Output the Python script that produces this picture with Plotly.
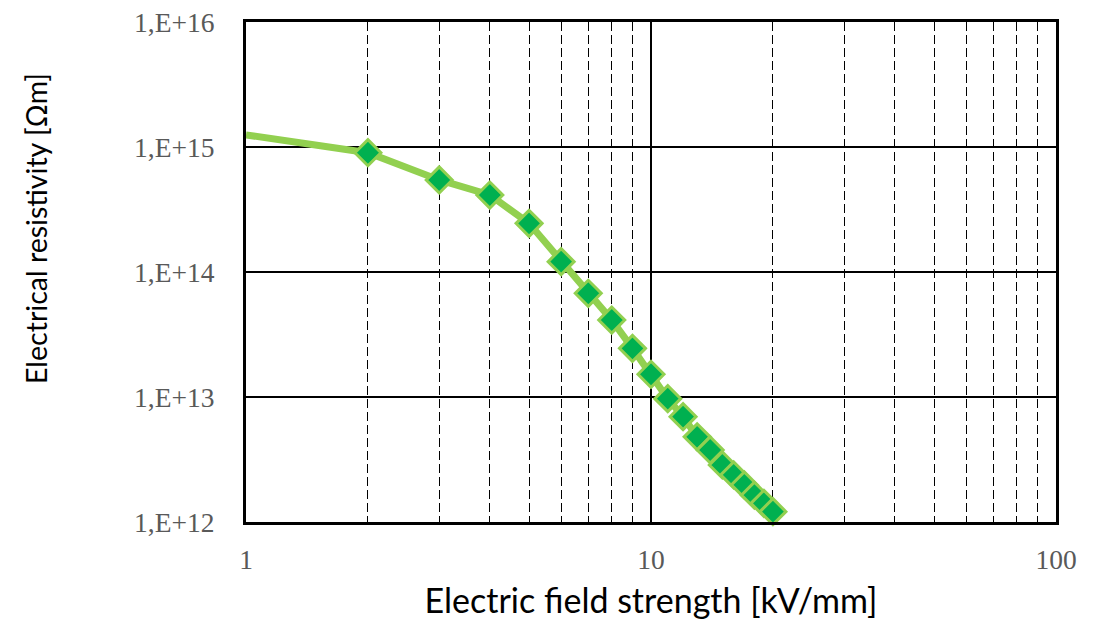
import plotly.graph_objects as go

# Data
field_line = [1, 2, 3, 4, 5, 6, 7, 8, 9, 10, 11, 12, 13, 14, 15, 16, 17, 18, 19, 20]
resist_line = [1.25e15, 9.0e14, 5.45e14, 4.13e14, 2.45e14, 1.21e14, 6.76e13, 4.13e13,
               2.45e13, 1.52e13, 9.7e12, 6.96e12, 4.8e12, 3.77e12, 2.86e12, 2.38e12,
               1.98e12, 1.64e12, 1.41e12, 1.21e12]
field_markers = field_line[1:]
resist_markers = resist_line[1:]

y_tickvals = [1e12, 1e13, 1e14, 1e15, 1e16]
y_ticktext = ["1,E+12", "1,E+13", "1,E+14", "1,E+15", "1,E+16"]
x_tickvals = [1, 10, 100]
x_ticktext = ["1", "10", "100"]
x_minor = [2, 3, 4, 5, 6, 7, 8, 9, 20, 30, 40, 50, 60, 70, 80, 90]

x_title = "Electric field strength [kV/mm]"
y_title = "Electrical resistivity [Ωm]"

fig = go.Figure()
fig.add_trace(go.Scatter(x=field_line, y=resist_line, mode="lines",
                         line=dict(color="#92D050", width=7), showlegend=False))
fig.add_trace(go.Scatter(x=field_markers, y=resist_markers, mode="markers",
                         marker=dict(symbol="diamond", size=20, color="#00B050",
                                     line=dict(color="#92D050", width=3)),
                         showlegend=False, cliponaxis=False))

tick_font = dict(family="Liberation Serif", size=27.5, color="#595959")

fig.update_layout(
    width=1109, height=627,
    margin=dict(l=238, r=61, t=14, b=113),
    paper_bgcolor="white", plot_bgcolor="white",
    xaxis=dict(type="log", range=[0, 2], tickvals=x_tickvals, ticktext=x_ticktext,
               tickfont=tick_font, showgrid=True, gridcolor="black", gridwidth=1.5,
               showline=True, linecolor="black", linewidth=3, mirror=True,
               ticks="outside", ticklen=0, ticklabelstandoff=11,
               ticklabeloverflow="allow", zeroline=False,
               minor=dict(tickvals=x_minor, showgrid=True, gridcolor="black",
                          gridwidth=1.3, griddash="9px,4px"),
               title=dict(text=x_title, font=dict(family="Lato", size=34, color="black"),
                          standoff=16),
               automargin=False),
    yaxis=dict(type="log", range=[12, 16], tickvals=y_tickvals, ticktext=y_ticktext,
               tickfont=tick_font, showgrid=True, gridcolor="black", gridwidth=1.6,
               showline=True, linecolor="black", linewidth=3, mirror=True,
               ticks="outside", ticklen=0, ticklabelstandoff=23,
               ticklabeloverflow="allow", zeroline=False, automargin=False),
    annotations=[dict(text=y_title, textangle=-90, showarrow=False,
                      xref="paper", yref="paper", x=0, y=0.586,
                      xanchor="center", yanchor="middle", xshift=-210,
                      font=dict(family="Lato", size=28.5, color="black"))],
)

fig.write_html("out.html")
